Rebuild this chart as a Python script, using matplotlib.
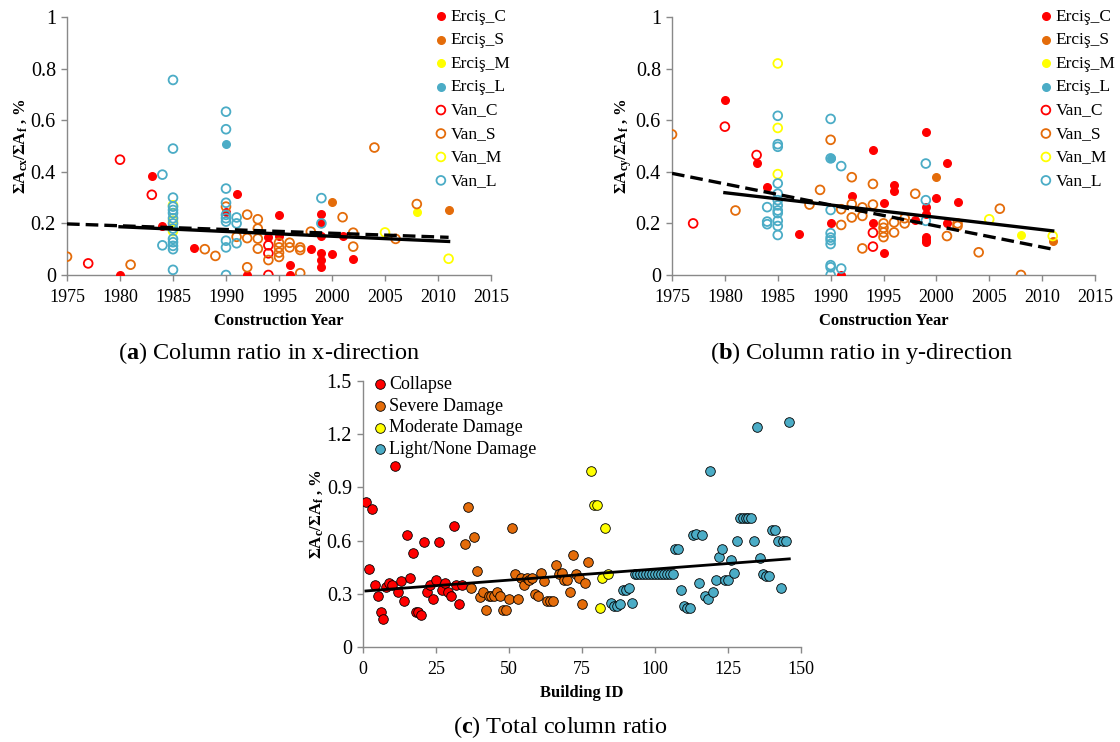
import matplotlib.pyplot as plt
import numpy as np

plt.rcParams['font.family'] = 'Liberation Serif'
plt.rcParams['mathtext.fontset'] = 'custom'
plt.rcParams['mathtext.rm'] = 'Liberation Serif'
plt.rcParams['mathtext.it'] = 'Liberation Serif:italic'
plt.rcParams['mathtext.bf'] = 'Liberation Serif:bold'

RED = '#FF0000'
ORANGE = '#E46C0A'
YELLOW = '#FFFF00'
TEAL = '#4BACC6'
AXIS_GRAY = '#898989'

# ---- (a) column ratio in x-direction vs construction year ----
ax_ercis_c_yr = [1980, 1983, 1984, 1987, 1990, 1991, 1992, 1994, 1995, 1995, 1996, 1996, 1998,
                 1999, 1999, 1999, 1999, 1999, 1999, 2000, 2001, 2002]
ax_ercis_c = [0.0, 0.385, 0.19, 0.105, 0.243, 0.315, 0.0, 0.146, 0.231, 0.15, 0.04, 0.0, 0.1,
              0.235, 0.2, 0.15, 0.084, 0.058, 0.03, 0.083, 0.15, 0.062]
ax_ercis_s_yr = [2000, 2011]
ax_ercis_s = [0.283, 0.252]
ax_ercis_m_yr = [2008]
ax_ercis_m = [0.245]
ax_ercis_l_yr = [1990]
ax_ercis_l = [0.507]
ax_van_c_yr = [1977, 1980, 1983, 1994, 1994, 1994]
ax_van_c = [0.045, 0.447, 0.311, 0.115, 0.084, 0.0]
ax_van_s_yr = [1975, 1981, 1988, 1989, 1990, 1991, 1992, 1992, 1992, 1993, 1993, 1993, 1993, 1994,
               1995, 1995, 1995, 1995, 1996, 1996, 1997, 1997, 1997, 1998, 2001, 2002, 2002, 2004,
               2006, 2008]
ax_van_s = [0.071, 0.04, 0.1, 0.074, 0.265, 0.148, 0.234, 0.143, 0.03, 0.216, 0.18, 0.141, 0.102,
            0.058, 0.125, 0.107, 0.087, 0.07, 0.125, 0.107, 0.107, 0.097, 0.007, 0.168, 0.224, 0.164,
            0.11, 0.494, 0.14, 0.275]
ax_van_m_yr = [1985, 1985, 1985, 2005, 2011]
ax_van_m = [0.27, 0.21, 0.17, 0.165, 0.063]
ax_van_l_yr = [1984, 1984, 1985, 1985, 1985, 1985, 1985, 1985, 1985, 1985, 1985, 1985, 1985, 1985,
               1985, 1985, 1990, 1990, 1990, 1990, 1990, 1990, 1990, 1990, 1990, 1990, 1991, 1991,
               1991, 1999, 1999]
ax_van_l = [0.389, 0.115, 0.756, 0.49, 0.30, 0.265, 0.252, 0.24, 0.22, 0.2, 0.18, 0.14, 0.127, 0.113,
            0.1, 0.02, 0.633, 0.565, 0.335, 0.28, 0.233, 0.207, 0.22, 0.133, 0.107, 0.0, 0.223, 0.2,
            0.123, 0.298, 0.2]
# trendlines (Erciş solid, Van dashed)
ax_trend_ercis = [0.187, 0.130]
ax_trend_van = [0.198, 0.146]

# ---- (b) column ratio in y-direction vs construction year ----
ay_ercis_c_yr = [1980, 1983, 1984, 1987, 1990, 1991, 1992, 1994, 1994, 1995, 1995, 1996, 1996, 1998,
                 1999, 1999, 1999, 1999, 1999, 1999, 2000, 2001, 2001, 2002]
ay_ercis_c = [0.68, 0.435, 0.34, 0.158, 0.2, 0.0, 0.306, 0.483, 0.2, 0.28, 0.086, 0.35, 0.325, 0.213,
              0.554, 0.264, 0.235, 0.146, 0.136, 0.126, 0.3, 0.433, 0.2, 0.283]
ay_ercis_s_yr = [2000, 2011]
ay_ercis_s = [0.381, 0.133]
ay_ercis_m_yr = [2008]
ay_ercis_m = [0.155]
ay_ercis_l_yr = [1990]
ay_ercis_l = [0.452]
ay_van_c_yr = [1977, 1980, 1983, 1994, 1994]
ay_van_c = [0.2, 0.575, 0.465, 0.164, 0.11]
ay_van_s_yr = [1975, 1981, 1988, 1989, 1990, 1991, 1991, 1992, 1992, 1992, 1993, 1993, 1993, 1994,
               1994, 1995, 1995, 1995, 1995, 1996, 1996, 1997, 1997, 1998, 2001, 2002, 2002, 2004,
               2006, 2008]
ay_van_s = [0.545, 0.25, 0.273, 0.33, 0.524, 0.255, 0.194, 0.379, 0.275, 0.223, 0.262, 0.229, 0.103,
            0.353, 0.273, 0.2, 0.183, 0.165, 0.147, 0.204, 0.165, 0.22, 0.2, 0.315, 0.151, 0.2, 0.19,
            0.088, 0.257, 0.0]
ay_van_m_yr = [1985, 1985, 1985, 2005, 2011]
ay_van_m = [0.82, 0.57, 0.391, 0.216, 0.151]
ay_van_l_yr = [1984, 1984, 1984, 1985, 1985, 1985, 1985, 1985, 1985, 1985, 1985, 1985, 1985, 1985,
               1985, 1990, 1990, 1990, 1990, 1990, 1990, 1990, 1990, 1990, 1990, 1991, 1991, 1999,
               1999, 1999]
ay_van_l = [0.263, 0.207, 0.197, 0.617, 0.507, 0.497, 0.355, 0.315, 0.29, 0.27, 0.25, 0.24, 0.21,
            0.19, 0.155, 0.605, 0.452, 0.252, 0.162, 0.145, 0.135, 0.12, 0.038, 0.03, 0.0, 0.422,
            0.025, 0.432, 0.29, 0.21]
ay_trend_ercis = [0.319, 0.171]
ay_trend_van = [0.394, 0.100]

trend_ercis_yr = [1980, 2011]
trend_van_yr = [1975, 2011]

# ---- (c) total column ratio by building ----
collapse = [0.82, 0.44, 0.78, 0.35, 0.29, 0.20, 0.16, 0.34, 0.36, 0.35, 1.02, 0.31, 0.37, 0.26, 0.63,
            0.39, 0.53, 0.20, 0.20, 0.18, 0.59, 0.31, 0.35, 0.27, 0.38, 0.59, 0.32, 0.36, 0.31, 0.29,
            0.68, 0.35, 0.24, 0.35]
severe = [0.58, 0.79, 0.33, 0.62, 0.43, 0.28, 0.31, 0.21, 0.29, 0.29, 0.29, 0.31, 0.29, 0.21, 0.21,
          0.27, 0.67, 0.41, 0.27, 0.39, 0.35, 0.39, 0.38, 0.39, 0.30, 0.29, 0.42, 0.37, 0.26, 0.26,
          0.26, 0.46, 0.41, 0.42, 0.38, 0.38, 0.31, 0.52, 0.41, 0.39, 0.24, 0.36, 0.48]
moderate = [0.99, 0.80, 0.80, 0.22, 0.39, 0.67, 0.41]
light = [0.25, 0.23, 0.23, 0.24, 0.32, 0.32, 0.335, 0.25,
         0.41, 0.41, 0.41, 0.41, 0.41, 0.41, 0.41, 0.41, 0.41, 0.41, 0.41, 0.41, 0.41, 0.41,
         0.55, 0.55, 0.32, 0.23, 0.22, 0.22, 0.63, 0.64, 0.36, 0.63, 0.29, 0.27, 0.99, 0.31, 0.38,
         0.51, 0.55, 0.38, 0.38, 0.49, 0.42, 0.60, 0.73, 0.73, 0.73, 0.73, 0.73, 0.60, 1.24, 0.50,
         0.41, 0.40, 0.40, 0.66, 0.66, 0.60, 0.33, 0.60, 0.60, 1.27]
c_trend_id = [1, 146]
c_trend = [0.316, 0.497]

W, H = 1120, 742
fig = plt.figure(figsize=(W / 100, H / 100), dpi=100)


def box(left, top, right, bottom):
    return [left / W, 1 - bottom / H, (right - left) / W, (bottom - top) / H]


def style_axes(ax):
    for side in ('top', 'right'):
        ax.spines[side].set_visible(False)
    for side in ('left', 'bottom'):
        ax.spines[side].set_color(AXIS_GRAY)
        ax.spines[side].set_linewidth(1.0)
    ax.tick_params(direction='out', length=4, width=1.0, color=AXIS_GRAY)
    ax.tick_params(axis='x', labelsize=13, pad=6)
    ax.tick_params(axis='y', labelsize=14.5, pad=4)
    for lab in ax.get_xticklabels() + ax.get_yticklabels():
        lab.set_fontfamily('Liberation Serif')


def year_panel(ax, ercis, van, trends, ylabel, legend_x):
    colors = [RED, ORANGE, YELLOW, TEAL]
    names = ['C', 'S', 'M', 'L']
    for (yr, val), c, n in zip(ercis, colors, names):
        ax.scatter(yr, val, s=30, facecolors=c, edgecolors=c, linewidths=1.0, zorder=3,
                   label='Erciş_' + n)
    for (yr, val), c, n in zip(van, colors, names):
        ax.scatter(yr, val, s=40, facecolors='none', edgecolors=c, linewidths=1.3, zorder=3,
                   label='Van_' + n)

    ax.plot(trend_ercis_yr, trends[0], color='black', lw=2.4, ls='-', zorder=4)
    ax.plot(trend_van_yr, trends[1], color='black', lw=2.4, ls=(0, (3.8, 1.8)), zorder=4)

    ax.set_xlim(1975, 2015)
    ax.set_ylim(0, 1)
    ax.set_xticks(range(1975, 2016, 5))
    ax.set_yticks([0, 0.2, 0.4, 0.6, 0.8, 1])
    ax.set_yticklabels(['0', '0.2', '0.4', '0.6', '0.8', '1'])
    style_axes(ax)
    ax.set_xlabel('Construction Year', fontsize=12, fontweight='bold', labelpad=5)
    ax.set_ylabel(ylabel, fontsize=12, fontweight='bold', labelpad=1)
    ax.legend(loc='upper left', bbox_to_anchor=(legend_x / W, 1 - 0 / H),
              bbox_transform=fig.transFigure, frameon=False, fontsize=12.5,
              handlelength=0.6, handletextpad=0.25, borderpad=0, labelspacing=0.42,
              scatterpoints=1)


ax_a = fig.add_axes(box(67, 17, 491, 275))
year_panel(ax_a,
           [(ax_ercis_c_yr, ax_ercis_c), (ax_ercis_s_yr, ax_ercis_s),
            (ax_ercis_m_yr, ax_ercis_m), (ax_ercis_l_yr, ax_ercis_l)],
           [(ax_van_c_yr, ax_van_c), (ax_van_s_yr, ax_van_s),
            (ax_van_m_yr, ax_van_m), (ax_van_l_yr, ax_van_l)],
           (ax_trend_ercis, ax_trend_van),
           r'$\mathbf{\Sigma A_{cx}/\Sigma A_{f}}$ , %', 427)

ax_b = fig.add_axes(box(672, 17, 1095, 275))
year_panel(ax_b,
           [(ay_ercis_c_yr, ay_ercis_c), (ay_ercis_s_yr, ay_ercis_s),
            (ay_ercis_m_yr, ay_ercis_m), (ay_ercis_l_yr, ay_ercis_l)],
           [(ay_van_c_yr, ay_van_c), (ay_van_s_yr, ay_van_s),
            (ay_van_m_yr, ay_van_m), (ay_van_l_yr, ay_van_l)],
           (ay_trend_ercis, ay_trend_van),
           r'$\mathbf{\Sigma A_{cy}/\Sigma A_{f}}$ , %', 1032)

# ---- (c) ----
ax_c = fig.add_axes(box(363, 381, 801, 647))
start = 1
groups = [(collapse, RED, 'Collapse'), (severe, ORANGE, 'Severe Damage'),
          (moderate, YELLOW, 'Moderate Damage'), (light, TEAL, 'Light/None Damage')]
for vals, c, lab in groups:
    ids = np.arange(start, start + len(vals))
    ax_c.scatter(ids, vals, s=48, facecolors=c, edgecolors='black', linewidths=0.6, zorder=3,
                 label=lab)
    start += len(vals)
ax_c.plot(c_trend_id, c_trend, color='black', lw=2.0, zorder=4)

ax_c.set_xlim(0, 150)
ax_c.set_ylim(0, 1.5)
ax_c.set_xticks([0, 25, 50, 75, 100, 125, 150])
ax_c.set_yticks([0, 0.3, 0.6, 0.9, 1.2, 1.5])
ax_c.set_yticklabels(['0', '0.3', '0.6', '0.9', '1.2', '1.5'])
style_axes(ax_c)
ax_c.set_xlabel('Building ID', fontsize=12, fontweight='bold', labelpad=5)
ax_c.set_ylabel(r'$\mathbf{\Sigma A_{c}/\Sigma A_{f}}$ , %', fontsize=12, fontweight='bold',
                labelpad=1)
ax_c.legend(loc='upper left', bbox_to_anchor=(366 / W, 1 - 367 / H),
            bbox_transform=fig.transFigure, frameon=False, fontsize=13,
            handlelength=0.6, handletextpad=0.2, borderpad=0, labelspacing=0.26,
            scatterpoints=1)

# captions
fig.text(269 / W, 1 - 353 / H, r'($\mathbf{a}$) Column ratio in x-direction', fontsize=17.5,
         ha='center', va='center')
fig.text(862 / W, 1 - 353 / H, r'($\mathbf{b}$) Column ratio in y-direction', fontsize=17.5,
         ha='center', va='center')
fig.text(560 / W, 1 - 727 / H, r'($\mathbf{c}$) Total column ratio', fontsize=17.5,
         ha='center', va='center')

fig.savefig('out.png', dpi=100)
